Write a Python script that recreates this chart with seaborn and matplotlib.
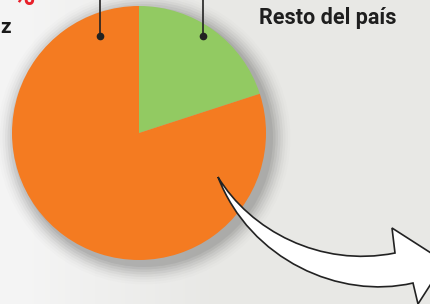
import matplotlib
matplotlib.use('Agg')
import matplotlib.pyplot as plt
import numpy as np
import seaborn as sns
from matplotlib.path import Path
from matplotlib.patches import PathPatch, Circle

## Data
labels = ['Resto del país', 'Otra región']
shares = [20, 80]
colors = ['#92ca62', '#f47b21']

sns.set_style('white')
plt.rcParams['font.family'] = ['Roboto', 'DejaVu Sans']

W, H = 430, 304
fig = plt.figure(figsize=(W / 100, H / 100), dpi=100)
ax = fig.add_axes([0, 0, 1, 1])
ax.set_xlim(0, W)
ax.set_ylim(0, H)
ax.set_aspect('equal')
ax.axis('off')

## background: light left side fading to flat gray
gx = np.linspace(0, 1, 200)
grad = np.clip((gx - 0.05) / 0.45, 0, 1)
bg = np.zeros((10, 200, 3))
left = np.array([0.96, 0.96, 0.96])
right = np.array([0.91, 0.91, 0.90])
for c in range(3):
    bg[:, :, c] = left[c] + (right[c] - left[c]) * grad
ax.imshow(bg, extent=[0, W, 0, H], aspect='auto', zorder=0)

## pie shadow
cx, cy, r = 139, 171, 127
for i, a in enumerate(np.linspace(0.06, 0.01, 8)):
    ax.add_patch(Circle((cx + 5, cy - 5), r + 2 + i * 2.5, color='black',
                        alpha=a, lw=0, zorder=1))

ax.pie(shares, colors=colors, startangle=90, counterclock=False,
       center=(cx, cy), radius=r, wedgeprops=dict(linewidth=0))
ax.set_xlim(0, W)
ax.set_ylim(0, H)

## leader lines
for lx in [100, 203]:
    ax.plot([lx, lx], [H, H - 36], color='#222222', lw=1.2, zorder=5)
    ax.plot(lx, H - 36, 'o', color='#222222', ms=4.5, zorder=5)

## texts
ax.text(328, H - 24, labels[0], fontsize=15.5, fontweight='bold',
        color='#1e1e1e', ha='center', va='baseline', zorder=6)
ax.text(0, H - 33, 'z', fontsize=15, fontweight='bold', color='#1a1a1a',
        ha='left', va='baseline', zorder=6)
ax.text(24, H - 5, '%', fontsize=22, fontweight='bold', color='#e8202a',
        ha='center', va='baseline', zorder=6)

## curved arrow
def fy(p):
    return [(x, H - y) for x, y in p]

verts = fy([
    (218, 177),
    (250, 230), (320, 268), (395, 253),
    (392, 228),
    (445, 262),
    (418, 304),
    (413, 283),
    (340, 300), (250, 260), (218, 177),
])
codes = [Path.MOVETO,
         Path.CURVE4, Path.CURVE4, Path.CURVE4,
         Path.LINETO, Path.LINETO, Path.LINETO, Path.LINETO,
         Path.CURVE4, Path.CURVE4, Path.CURVE4]
arrow = PathPatch(Path(verts, codes), facecolor='white', edgecolor='#222222',
                  lw=1.2, zorder=7)
ax.add_patch(arrow)

fig.savefig('out.png', dpi=100)
